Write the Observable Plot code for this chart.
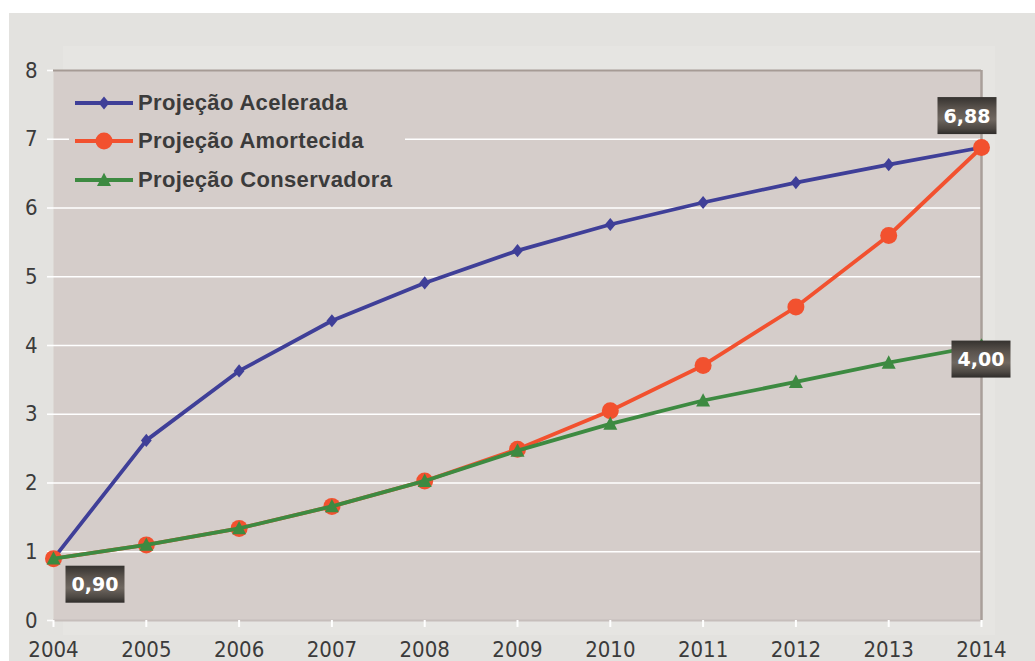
<!DOCTYPE html>
<html>
<head>
<meta charset="utf-8">
<script src="https://cdn.jsdelivr.net/npm/d3@7"></script>
<script src="https://cdn.jsdelivr.net/npm/@observablehq/plot@0.6"></script>
<style>
  html, body { margin: 0; padding: 0; background: #ffffff; }
  #wrap { position: relative; width: 1035px; height: 661px; overflow: hidden; background: #ffffff; }
  #bg { position: absolute; left: 9px; top: 13px; right: 0; bottom: 0; background: #e3e2df; }
  #panel { position: absolute; left: 63px; top: 46px; width: 932px; height: 589px; background: #e6e5e2; }
  #chart { position: absolute; left: 0; top: 0; }
  #legend { position: absolute; left: 69px; top: 84px; width: 336px; height: 116px; background: #d5cdca; }
  .item { position: absolute; left: 6px; height: 24px; display: flex; align-items: center; }
  .item span { font-family: "Liberation Sans", Arial, sans-serif; font-weight: bold; font-size: 22px; letter-spacing: 0.35px; color: #3b3b3b; margin-left: 5px; }
</style>
</head>
<body>
<div id="wrap">
  <div id="bg"></div>
  <div id="panel"></div>
  <div id="chart"></div>
  <div id="legend"></div>
</div>
<script>
// ---- Data ----
const years = [2004, 2005, 2006, 2007, 2008, 2009, 2010, 2011, 2012, 2013, 2014];
const acelerada    = [0.90, 2.62, 3.63, 4.36, 4.91, 5.38, 5.76, 6.08, 6.37, 6.63, 6.88];
const amortecida   = [0.90, 1.10, 1.34, 1.66, 2.03, 2.49, 3.05, 3.71, 4.56, 5.60, 6.88];
const conservadora = [0.90, 1.10, 1.34, 1.66, 2.03, 2.47, 2.86, 3.20, 3.47, 3.75, 4.00];
const seriesNames  = ["Projeção Acelerada", "Projeção Amortecida", "Projeção Conservadora"];
const seriesColors = ["#3f3f98", "#f2512f", "#3d8a41"];
const yTicks = [0, 1, 2, 3, 4, 5, 6, 7, 8];
const gridValues = [1, 2, 3, 4, 5, 6, 7];
const labelYears  = [2004, 2014, 2014];
const labelValues = [0.90, 6.88, 4.00];
const labelTexts  = ["0,90", "6,88", "4,00"];

const seriesValues = [acelerada, amortecida, conservadora];
const rows = seriesNames.flatMap((name, s) => years.map((year, i) => ({ series: name, year, value: seriesValues[s][i] })));
const labels = labelTexts.map((text, i) => ({ year: labelYears[i], value: labelValues[i], text }));

// custom symbols
const diamondSym = { draw(ctx, size) { const r = Math.sqrt(size / Math.PI); ctx.moveTo(0, -r * 1.1); ctx.lineTo(r * 0.9, 0); ctx.lineTo(0, r * 1.1); ctx.lineTo(-r * 0.9, 0); ctx.closePath(); } };
const triangleSym = { draw(ctx, size) { const r = Math.sqrt(size / Math.PI); ctx.moveTo(0, -r * 1.05); ctx.lineTo(r * 1.0, r * 0.85); ctx.lineTo(-r * 1.0, r * 0.85); ctx.closePath(); } };
const symbols = [diamondSym, "circle", triangleSym];
const radii = [6, 8.5, 7];

const seriesMarks = seriesNames.flatMap((name, s) => {
  const d = rows.filter(r => r.series === name);
  return [
    Plot.line(d, { x: "year", y: "value", stroke: seriesColors[s], strokeWidth: 3.8 }),
    Plot.dot(d, { x: "year", y: "value", fill: seriesColors[s], stroke: "none", r: radii[s], symbol: symbols[s] })
  ];
});

const labelOffsets = [[41.5, 26.5], [-14.5, -31], [-0.5, 14.5]];

const chart = Plot.plot({
  width: 1035,
  height: 661,
  marginLeft: 53,
  marginRight: 54,
  marginTop: 70,
  marginBottom: 41,
  style: { background: "transparent", overflow: "visible", fontFamily: "'DejaVu Sans Condensed', 'DejaVu Sans', sans-serif" },
  x: { domain: [2004, 2014], label: null },
  y: { domain: [0, 8], label: null },
  marks: [
    Plot.frame({ fill: "#d5cdca", stroke: null }),
    Plot.gridY(gridValues, { stroke: "#ffffff", strokeOpacity: 1, strokeWidth: 1.6 }),
    Plot.ruleY([0], { stroke: "#c6bebb", strokeWidth: 2 }),
    Plot.ruleY([8], { stroke: "#a69b95", strokeWidth: 2 }),
    Plot.ruleX([2014], { stroke: "#a99f9a", strokeWidth: 2.5 }),
    Plot.axisY(yTicks, { label: null, tickSize: 6, tickPadding: 10, stroke: "#ffffff", strokeWidth: 1.6, fontSize: 22, fill: "#3b3b3b", tickFormat: d => String(d) }),
    Plot.axisX(years, { label: null, tickSize: 7, tickPadding: 14, stroke: "#ffffff", strokeWidth: 2, fontSize: 22, fill: "#3b3b3b", tickFormat: d => String(d) }),
    ...seriesMarks,
    ...labels.map((l, i) => Plot.text([l], {
      x: "year", y: "value", text: "text", dx: labelOffsets[i][0], dy: labelOffsets[i][1],
      fill: "#ffffff", fontSize: 19, fontWeight: "bold", fontFamily: "'DejaVu Sans', sans-serif",
      className: "vlabel"
    }))
  ]
});
document.getElementById("chart").appendChild(chart);

// gradient boxes behind value labels
const svg = d3.select(chart);
const defs = svg.insert("defs", ":first-child");
const grad = defs.append("linearGradient").attr("id", "lblgrad").attr("x1", 0).attr("y1", 0).attr("x2", 0).attr("y2", 1);
[[0, "#35322f"], [0.3, "#5a534d"], [0.6, "#6f6760"], [0.85, "#4d4843"], [1, "#2f2c2a"]].forEach(([o, c]) =>
  grad.append("stop").attr("offset", o).attr("stop-color", c));
svg.selectAll(".vlabel text").each(function () {
  const b = this.getBBox();
  const cx = b.x + b.width / 2, cy = b.y + b.height / 2;
  d3.select(this.parentNode).insert("rect", () => this)
    .attr("transform", this.getAttribute("transform"))
    .attr("x", cx - 29.5).attr("y", cy - 18.5).attr("width", 59).attr("height", 37)
    .attr("fill", "url(#lblgrad)");
});

// legend
const legend = d3.select("#legend");
const legendTops = [7, 45, 84];
seriesNames.forEach((name, s) => {
  const item = legend.append("div").attr("class", "item").style("top", legendTops[s] + "px");
  const sv = item.append("svg").attr("width", 58).attr("height", 24);
  sv.append("line").attr("x1", 0).attr("x2", 58).attr("y1", 12).attr("y2", 12).attr("stroke", seriesColors[s]).attr("stroke-width", 3.8);
  const sym = d3.symbol(symbols[s] === "circle" ? d3.symbolCircle : symbols[s], radii[s] * radii[s] * Math.PI);
  sv.append("path").attr("transform", "translate(29,12)").attr("d", sym()).attr("fill", seriesColors[s]);
  item.append("span").text(name);
});
</script>
</body>
</html>
